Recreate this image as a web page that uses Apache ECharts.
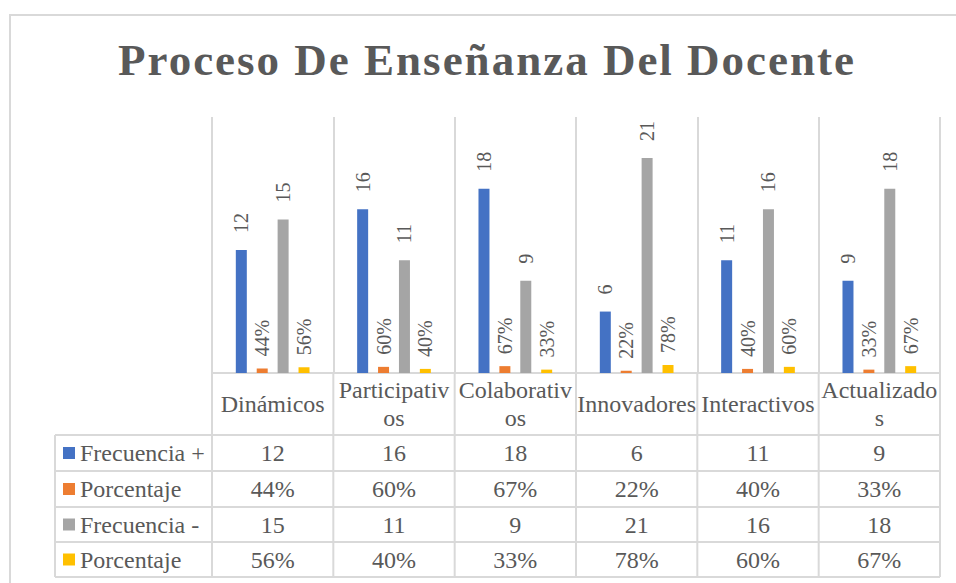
<!DOCTYPE html>
<html>
<head>
<meta charset="utf-8">
<script src="https://cdn.jsdelivr.net/npm/echarts@6/dist/echarts.min.js"></script>
<style>
html,body{margin:0;padding:0;background:#fff;}
#chart{width:956px;height:583px;}
</style>
</head>
<body>
<div id="chart"></div>
<script>
// ---- data ----
const titleText = 'Proceso De Enseñanza Del Docente';
const categories = ['Dinámicos', 'Participativos', 'Colaborativos', 'Innovadores', 'Interactivos', 'Actualizados'];
const seriesNames = ['Frecuencia +', 'Porcentaje', 'Frecuencia -', 'Porcentaje'];
const frecuenciaPos = [12, 16, 18, 6, 11, 9];
const porcentajePos = [0.44, 0.60, 0.67, 0.22, 0.40, 0.33];
const frecuenciaNeg = [15, 11, 9, 21, 16, 18];
const porcentajeNeg = [0.56, 0.40, 0.33, 0.78, 0.60, 0.67];

// ---- style / layout ----
const colors = ['#4472C4', '#ED7D31', '#A5A5A5', '#FFC000'];
const textColor = '#595959';
const gridColor = '#d9d9d9';
const serif = 'Liberation Serif';
const GRID = { left: 212, right: 16, top: 117, bottom: 210 };
const W = 956, H = 583;
const baseY = H - GRID.bottom;          // 373
const headerBottom = 435;
const rowLines = [435, 471, 507, 542, 577];
const tableLeft = 55;

const allSeries = [frecuenciaPos, porcentajePos, frecuenciaNeg, porcentajeNeg];
const isPct = [false, true, false, true];
const fmt = (v, pct) => pct ? Math.round(v * 100) + '%' : String(v);

const chart = echarts.init(document.getElementById('chart'), null, { renderer: 'svg' });

const series = allSeries.map((d, i) => ({
  name: seriesNames[i],
  type: 'bar',
  data: d,
  barWidth: 11,
  barGap: '90%',
  itemStyle: { color: colors[i] },
  label: {
    show: true,
    position: 'top',
    rotate: 90,
    align: 'left',
    verticalAlign: 'middle',
    distance: isPct[i] ? 12 : 17,
    color: textColor,
    fontFamily: serif,
    fontSize: 20,
    formatter: p => fmt(p.value, isPct[i])
  }
}));

chart.setOption({
  animation: false,
  textStyle: { fontFamily: serif },
  title: {
    text: titleText,
    left: 118,
    top: 37,
    padding: 0,
    textStyle: { fontFamily: serif, fontWeight: 'bold', fontSize: 45, lineHeight: 45, color: textColor }
  },
  grid: GRID,
  xAxis: {
    type: 'category',
    data: categories,
    axisLine: { show: true, lineStyle: { color: gridColor, width: 2 } },
    axisTick: { show: false },
    splitLine: { show: true, lineStyle: { color: gridColor, width: 2 } },
    axisLabel: {
      interval: 0,
      color: textColor,
      fontFamily: serif,
      fontSize: 24,
      lineHeight: 28,
      width: 121,
      overflow: 'breakAll',
      verticalAlign: 'middle',
      margin: 31
    }
  },
  yAxis: {
    type: 'value', min: 0, max: 25, show: false,
    splitLine: { show: false }
  },
  series: series
});

// ---- data table built from the arrays ----
const centers = categories.map((c, i) => chart.convertToPixel({ xAxisIndex: 0 }, i));
const cellW = centers.length > 1 ? centers[1] - centers[0] : 121;
const bounds = centers.map(c => c - cellW / 2).concat([centers[centers.length - 1] + cellW / 2]);
const tableRight = bounds[bounds.length - 1];

const lineStyle = { stroke: gridColor, lineWidth: 2 };
const g = [];
// outer chart border
g.push({ type: 'rect', shape: { x: 10, y: 15, width: 1000, height: 1000 }, style: { fill: 'none', stroke: gridColor, lineWidth: 2 }, silent: true });
// header vertical lines
bounds.forEach(x => g.push({ type: 'line', shape: { x1: x, y1: baseY, x2: x, y2: headerBottom }, style: lineStyle, silent: true }));
// body horizontal lines
rowLines.forEach(y => g.push({ type: 'line', shape: { x1: tableLeft, y1: y, x2: tableRight, y2: y }, style: lineStyle, silent: true }));
// body vertical lines
[tableLeft].concat(bounds).forEach(x => g.push({ type: 'line', shape: { x1: x, y1: rowLines[0], x2: x, y2: rowLines[rowLines.length - 1] }, style: lineStyle, silent: true }));
// rows
const cellText = (text, x, y, align) => ({
  type: 'text', x: x, y: y, silent: true,
  style: { text: text, fill: textColor, fontFamily: serif, fontSize: 24, align: align, verticalAlign: 'middle' }
});
allSeries.forEach((d, r) => {
  const cy = (rowLines[r] + rowLines[r + 1]) / 2;
  g.push({ type: 'rect', shape: { x: 63, y: cy - 6, width: 12, height: 12 }, style: { fill: colors[r] }, silent: true });
  g.push(cellText(seriesNames[r], 80, cy, 'left'));
  d.forEach((v, c) => g.push(cellText(fmt(v, isPct[r]), centers[c], cy, 'center')));
});
chart.setOption({ graphic: { elements: g } });

// letter spacing on the title (Excel character spacing)
function spaceTitle() {
  document.querySelectorAll('#chart svg text').forEach(t => {
    if (t.textContent === titleText) t.setAttribute('letter-spacing', '2px');
  });
}
chart.on('finished', spaceTitle);
setTimeout(spaceTitle, 50);
</script>
</body>
</html>
